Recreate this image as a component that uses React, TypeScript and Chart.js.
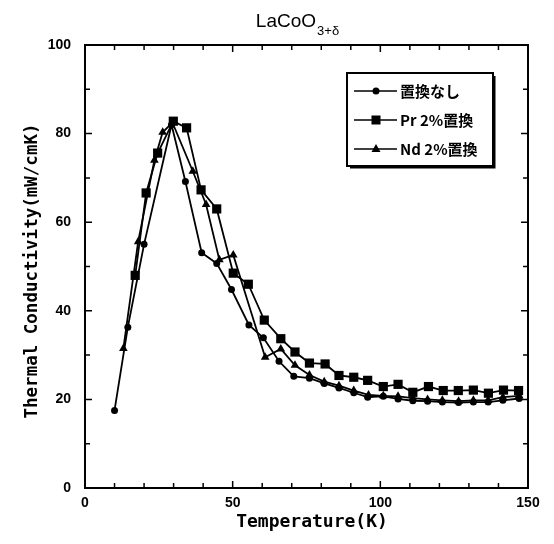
import React, { useEffect, useRef } from "react";
import { Chart, registerables } from "chart.js";

Chart.register(...registerables);

// ---- data ----
const tempNone = [10, 14.5, 20, 29.3, 34, 39.5, 44.6, 49.6, 55.5, 60.4, 65.7, 70.7, 76, 81, 86, 91, 95.7, 101, 106, 111, 116, 121, 126.5, 131.5, 136.5, 141.5, 147];
const kNone = [17.5, 36.3, 55, 82, 69.2, 53.1, 50.7, 44.8, 36.8, 33.9, 28.6, 25.2, 24.8, 23.6, 22.6, 21.5, 20.5, 20.7, 20.1, 19.7, 19.6, 19.4, 19.3, 19.4, 19.4, 19.8, 20.2];

const tempPr = [17, 20.7, 24.6, 29.9, 34.4, 39.3, 44.6, 50.2, 55.3, 60.7, 66.3, 71.1, 76, 81.3, 86, 91, 95.7, 101, 106, 111, 116.3, 121.3, 126.4, 131.5, 136.6, 141.7, 146.8];
const kPr = [48, 66.6, 75.6, 82.8, 81.3, 67.3, 63, 48.5, 46, 37.9, 33.7, 30.7, 28.2, 28, 25.4, 25, 24.3, 22.9, 23.4, 21.6, 22.9, 22, 22, 22.1, 21.4, 22.1, 22];

const tempNd = [13, 18, 23.5, 26.3, 29.6, 36.5, 41, 45.5, 50.2, 61, 66.3, 71.1, 76, 81, 86, 91, 96, 101, 106, 111, 116, 121, 126.5, 131.5, 136.5, 141.5, 147];
const kNd = [31.5, 55.6, 74, 80.3, 82.5, 71.5, 64, 51.5, 52.6, 29.5, 31.4, 27.7, 25.5, 24, 23.1, 22, 21, 20.8, 20.7, 20.3, 20, 19.8, 19.6, 19.8, 19.8, 20.5, 20.8];

const seriesLabels = ["置換なし", "Pr 2%置換", "Nd 2%置換"];
const seriesStyles = ["circle", "rect", "triangle"];
const xTickValues = [0, 50, 100, 150];
const yTickValues = [0, 20, 40, 60, 80, 100];
const titleMain = "LaCoO";
const titleSub = "3+δ";
const xTitle = "Temperature(K)";
const yTitle = "Thermal Conductivity(mW/cmK)";

const zip = (xs: number[], ys: number[]) => xs.map((x, i) => ({ x, y: ys[i] }));

function drawMarker(ctx: CanvasRenderingContext2D, style: string, x: number, y: number) {
  ctx.beginPath();
  if (style === "circle") {
    ctx.arc(x, y, 3.5, 0, Math.PI * 2);
  } else if (style === "rect") {
    ctx.rect(x - 4.5, y - 4.5, 9, 9);
  } else {
    ctx.moveTo(x, y - 5);
    ctx.lineTo(x + 4.5, y + 3);
    ctx.lineTo(x - 4.5, y + 3);
    ctx.closePath();
  }
  ctx.fill();
}

const decorPlugin = {
  id: "decor",
  afterDraw(chart: any) {
    const ctx: CanvasRenderingContext2D = chart.ctx;
    const { left, right, top, bottom } = chart.chartArea;
    const xs = chart.scales.x;
    const ys = chart.scales.y;
    ctx.save();
    ctx.strokeStyle = "#000";
    ctx.fillStyle = "#000";
    // frame
    ctx.lineWidth = 2;
    ctx.strokeRect(left, top, right - left, bottom - top);
    // inward ticks
    ctx.lineWidth = 1.5;
    ctx.beginPath();
    for (let v = 10; v < 150; v += 10) {
      const px = xs.getPixelForValue(v);
      const len = v % 50 === 0 ? 7 : 5;
      ctx.moveTo(px, bottom);
      ctx.lineTo(px, bottom - len);
      ctx.moveTo(px, top);
      ctx.lineTo(px, top + len);
    }
    for (let v = 10; v < 100; v += 10) {
      const py = ys.getPixelForValue(v);
      const len = v % 20 === 0 ? 7 : 5;
      ctx.moveTo(left, py);
      ctx.lineTo(left + len, py);
      ctx.moveTo(right, py);
      ctx.lineTo(right - len, py);
    }
    ctx.stroke();

    // title
    ctx.textBaseline = "alphabetic";
    ctx.textAlign = "left";
    ctx.font = "19px 'Liberation Sans', Arial, sans-serif";
    const mainW = ctx.measureText(titleMain).width;
    ctx.font = "13px 'Liberation Sans', Arial, sans-serif";
    const subW = ctx.measureText(titleSub).width;
    const tx = 297 - (mainW + subW) / 2;
    ctx.font = "19px 'Liberation Sans', Arial, sans-serif";
    ctx.fillText(titleMain, tx, 27);
    ctx.font = "13px 'Liberation Sans', Arial, sans-serif";
    ctx.fillText(titleSub, tx + mainW + 1, 35);

    // axis titles
    ctx.font = "bold 18px 'DejaVu Sans Mono', monospace";
    ctx.textAlign = "center";
    ctx.fillText(xTitle, 312, 527);
    ctx.save();
    ctx.translate(37, 271);
    ctx.rotate(-Math.PI / 2);
    ctx.font = "bold 17.5px 'DejaVu Sans Mono', monospace";
    ctx.fillText(yTitle, 0, 0);
    ctx.restore();

    // legend
    const bx = 347, by = 73, bw = 146, bh = 93;
    ctx.lineWidth = 2;
    ctx.fillStyle = "#fff";
    ctx.fillRect(bx, by, bw, bh);
    ctx.strokeRect(bx, by, bw, bh);
    ctx.beginPath();
    ctx.moveTo(bx + 3, by + bh + 1.5);
    ctx.lineTo(bx + bw + 1.5, by + bh + 1.5);
    ctx.lineTo(bx + bw + 1.5, by + 3);
    ctx.stroke();
    ctx.fillStyle = "#000";
    ctx.font = "bold 15px 'Noto Sans CJK JP', sans-serif";
    ctx.textAlign = "left";
    ctx.textBaseline = "middle";
    seriesLabels.forEach((lab, i) => {
      const y = by + 18 + i * 29;
      ctx.lineWidth = 1.5;
      ctx.beginPath();
      ctx.moveTo(bx + 7, y);
      ctx.lineTo(bx + 50, y);
      ctx.stroke();
      drawMarker(ctx, seriesStyles[i], bx + 29, y);
      ctx.fillText(lab, bx + 53, y);
    });
    ctx.restore();
  },
};

export default function App() {
  const ref = useRef<HTMLCanvasElement | null>(null);
  useEffect(() => {
    document.body.style.margin = "0";
    const canvas = ref.current;
    if (!canvas) return;
    const common = {
      borderColor: "#000",
      backgroundColor: "#000",
      borderWidth: 1.8,
      pointBorderWidth: 0,
      tension: 0,
      fill: false,
    };
    const chart = new Chart(canvas, {
      type: "line",
      data: {
        datasets: [
          { ...common, label: seriesLabels[0], data: zip(tempNone, kNone), pointStyle: "circle", pointRadius: 3.5 },
          { ...common, label: seriesLabels[1], data: zip(tempPr, kPr), pointStyle: "rect", pointRadius: 6.5 },
          { ...common, label: seriesLabels[2], data: zip(tempNd, kNd), pointStyle: "triangle", pointRadius: 5 },
        ],
      },
      options: {
        animation: false,
        responsive: false,
        maintainAspectRatio: false,
        layout: { padding: { top: 45, right: 26, left: 0, bottom: 0 } },
        plugins: { legend: { display: false }, title: { display: false }, tooltip: { enabled: false } },
        scales: {
          x: {
            type: "linear",
            min: 0,
            max: 150,
            afterFit: (s: any) => { s.height = 56; },
            afterBuildTicks: (s: any) => { s.ticks = xTickValues.map((v) => ({ value: v })); },
            grid: { display: false, drawTicks: false },
            border: { display: false },
            ticks: { padding: 7, color: "#000", font: { family: "'Liberation Sans', Arial, sans-serif", size: 14, weight: "bold" }, maxRotation: 0 },
          },
          y: {
            type: "linear",
            min: 0,
            max: 100,
            afterFit: (s: any) => { s.width = 85; },
            afterBuildTicks: (s: any) => { s.ticks = yTickValues.map((v) => ({ value: v })); },
            grid: { display: false, drawTicks: false },
            border: { display: false },
            ticks: { padding: 14, color: "#000", font: { family: "'Liberation Sans', Arial, sans-serif", size: 14, weight: "bold" } },
          },
        },
      } as any,
      plugins: [decorPlugin],
    });
    return () => chart.destroy();
  }, []);
  return (
    <div style={{ width: 554, height: 544, background: "#fff" }}>
      <canvas ref={ref} width={554} height={544} style={{ display: "block" }} />
    </div>
  );
}
